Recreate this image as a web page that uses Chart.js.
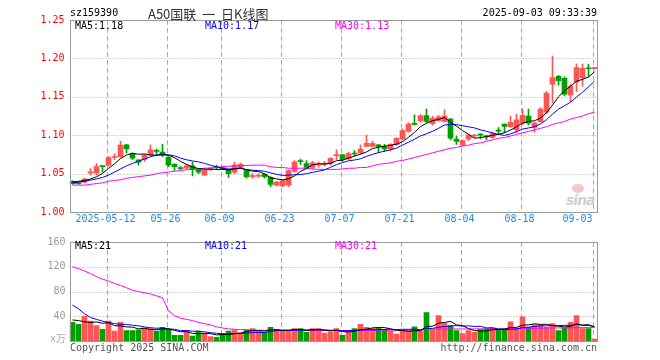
<!DOCTYPE html>
<html lang="zh-CN">
<head>
<meta charset="UTF-8">
<title>A50国联 日K线图</title>
<style>
    body { margin: 0; background: #fff; }
    #wrap { position: relative; width: 660px; height: 360px; font-family: "DejaVu Sans Mono", monospace; font-size: 10px; }
    #wrap canvas { position: absolute; left: 0; }
    #kChart { top: 0; }
    #volChart { top: 232px; }
    .t { position: absolute; white-space: nowrap; line-height: 12px; }
</style>
<script src="https://cdn.jsdelivr.net/npm/chart.js"></script>
</head>
<body>
<div id="wrap">
    <canvas id="kChart" width="660" height="232"></canvas>
    <canvas id="volChart" width="660" height="128"></canvas>

    <div class="t" style="left:70px;top:7px;">sz159390</div>
    <div class="t" style="left:148px;top:4px;line-height:16px;font:13px 'Noto Sans CJK SC';color:#333;">A50国联&nbsp;&nbsp;一&nbsp;&nbsp;日K线图</div>
    <div class="t" style="right:63px;top:7px;">2025-09-03 09:33:39</div>

    <div class="t" style="left:75px;top:20px;color:#000;">MA5:1.18</div>
    <div class="t" style="left:205px;top:20px;color:#0000ff;">MA10:1.17</div>
    <div class="t" style="left:335px;top:20px;color:#ff00ff;">MA30:1.13</div>

    <div class="t" style="left:75px;top:240px;color:#000;">MA5:21</div>
    <div class="t" style="left:205px;top:240px;color:#0000ff;">MA10:21</div>
    <div class="t" style="left:335px;top:240px;color:#ff00ff;">MA30:21</div>

    <div class="t" style="right:594px;top:333px;color:#aaa;">x万</div>
    <div class="t" style="left:70px;top:342px;color:#555;">Copyright 2025 SINA.COM</div>
    <div class="t" style="right:63px;top:342px;color:#555;">http://finance.sina.com.cn</div>

    <!-- sina watermark -->
    <div style="position:absolute;left:572px;top:184px;width:12px;height:9px;border-radius:50%;background:#f4c8c8;"></div>
    <div class="t" style="left:566px;top:192px;font:italic bold 14px 'DejaVu Sans';color:#cfcfcf;letter-spacing:-1px;">sina</div>
</div>
<script>
// trading days shown (MM-DD, 2025)
const dates = ['04-29','04-30','05-06','05-07','05-08','05-09','05-12','05-13','05-14','05-15','05-16','05-19','05-20','05-21','05-22','05-23',
    '05-26','05-27','05-28','05-29','05-30','06-03','06-04','06-05','06-06','06-09','06-10','06-11','06-12','06-13','06-16','06-17','06-18','06-19','06-20',
    '06-23','06-24','06-25','06-26','06-27','06-30','07-01','07-02','07-03','07-04','07-07','07-08','07-09','07-10','07-11','07-14','07-15','07-16','07-17','07-18',
    '07-21','07-22','07-23','07-24','07-25','07-28','07-29','07-30','07-31','08-01','08-04','08-05','08-06','08-07','08-08','08-11','08-12','08-13','08-14','08-15',
    '08-18','08-19','08-20','08-21','08-22','08-25','08-26','08-27','08-28','08-29','09-01','09-02','09-03'];

// date labels printed under the price panel
const tickLabels = ['2025-05-12','05-26','06-09','06-23','07-07','07-21','08-04','08-18','09-03'];

const opens  = [1.040,1.038,1.039,1.051,1.051,1.060,1.061,1.071,1.072,1.0876,1.076,1.068,1.068,1.074,1.080,1.078,
    1.071,1.062,1.057,1.057,1.060,1.0555,1.048,1.055,1.059,1.058,1.0555,1.052,1.058,1.054,1.046,1.0465,1.049,1.045,1.035,
    1.034,1.035,1.053,1.066,1.063,1.058,1.061,1.062,1.063,1.0735,1.0745,1.069,1.076,1.077,1.0855,1.0855,1.0875,1.0853,1.082,1.088,
    1.095,1.105,1.1145,1.1185,1.1255,1.115,1.119,1.118,1.121,1.095,1.0875,1.095,1.099,1.1005,1.099,1.097,1.1057,1.1144,1.111,1.107,
    1.1157,1.125,1.110,1.1174,1.130,1.1665,1.1765,1.174,1.152,1.169,1.175,1.187,1.187];
const highs  = [1.041,1.039,1.044,1.0566,1.063,1.060,1.072,1.0756,1.092,1.088,1.077,1.068,1.075,1.0876,1.082,1.088,
    1.072,1.063,1.059,1.062,1.065,1.056,1.056,1.058,1.061,1.059,1.056,1.065,1.064,1.055,1.050,1.050,1.050,1.046,1.040,
    1.042,1.055,1.067,1.069,1.067,1.066,1.065,1.066,1.071,1.081,1.075,1.078,1.080,1.0875,1.100,1.092,1.088,1.088,1.089,1.097,
    1.108,1.116,1.1266,1.127,1.134,1.125,1.126,1.133,1.122,1.099,1.094,1.101,1.101,1.102,1.100,1.104,1.110,1.1144,1.125,1.1274,
    1.134,1.134,1.117,1.136,1.157,1.203,1.178,1.176,1.1665,1.193,1.1927,1.1927,1.188];
const lows   = [1.036,1.036,1.038,1.048,1.048,1.052,1.060,1.068,1.071,1.077,1.068,1.061,1.066,1.073,1.075,1.072,
    1.059,1.054,1.055,1.056,1.047,1.050,1.048,1.054,1.055,1.055,1.045,1.050,1.057,1.044,1.044,1.045,1.044,1.033,1.034,
    1.033,1.033,1.052,1.062,1.056,1.056,1.058,1.060,1.061,1.068,1.066,1.068,1.073,1.076,1.085,1.085,1.0774,1.079,1.080,1.087,
    1.094,1.104,1.113,1.117,1.1165,1.113,1.118,1.117,1.094,1.088,1.086,1.093,1.097,1.095,1.094,1.096,1.101,1.103,1.110,1.1035,
    1.114,1.113,1.104,1.117,1.128,1.142,1.165,1.151,1.1435,1.1566,1.164,1.1766,1.186];
const closes = [1.037,1.037,1.043,1.052,1.059,1.059,1.071,1.072,1.087,1.082,1.070,1.065,1.074,1.081,1.079,1.074,
    1.061,1.059,1.0565,1.060,1.0555,1.052,1.055,1.0565,1.058,1.056,1.050,1.061,1.062,1.046,1.047,1.0475,1.046,1.036,1.039,
    1.041,1.054,1.065,1.0655,1.058,1.064,1.062,1.063,1.070,1.0745,1.068,1.076,1.0755,1.082,1.0895,1.0895,1.0853,1.082,1.088,1.096,
    1.106,1.1145,1.114,1.1253,1.118,1.122,1.124,1.125,1.096,1.092,1.093,1.100,1.0995,1.100,1.098,1.102,1.1053,1.1113,1.1166,1.120,
    1.126,1.1157,1.1157,1.134,1.155,1.175,1.171,1.1535,1.164,1.188,1.187,1.1865,1.1875];

const ma5  = [1.039,1.040,1.041,1.043,1.0458,1.0502,1.0568,1.0626,1.0696,1.0742,1.0764,1.0752,1.0756,1.0744,1.0738,1.0746,
    1.0738,1.0708,1.0659,1.0621,1.0584,1.0566,1.0558,1.0558,1.0554,1.0555,1.0551,1.0563,1.0574,1.0550,1.0532,1.0527,1.0497,1.0445,1.0431,
    1.0419,1.0432,1.0470,1.0529,1.0567,1.0613,1.0629,1.0625,1.0634,1.0667,1.0675,1.0703,1.0728,1.0752,1.0782,1.0825,1.0844,1.0857,1.0869,1.0882,
    1.0915,1.0973,1.1037,1.1112,1.1156,1.1188,1.1207,1.1229,1.1170,1.1118,1.1060,1.1012,1.0961,1.0969,1.0981,1.0999,1.1010,1.1033,1.1066,1.1110,
    1.1158,1.1179,1.1188,1.1223,1.1293,1.1391,1.1501,1.1577,1.1637,1.1703,1.1727,1.1758,1.1826];
const ma10 = [1.038,1.039,1.040,1.0415,1.043,1.045,1.048,1.052,1.056,1.0600,1.0633,1.0660,1.0691,1.0720,1.0740,1.0755,
    1.0745,1.0732,1.0702,1.0680,1.0665,1.0652,1.0633,1.0609,1.0588,1.0570,1.0559,1.0561,1.0566,1.0552,1.0544,1.0539,1.0530,1.0510,1.0491,
    1.0476,1.0480,1.0484,1.0487,1.0499,1.0516,1.0531,1.0548,1.0582,1.0617,1.0644,1.0666,1.0677,1.0693,1.0725,1.0750,1.0773,1.0792,1.0810,1.0832,
    1.0870,1.0908,1.0947,1.0990,1.1019,1.1051,1.1090,1.1133,1.1141,1.1137,1.1124,1.1109,1.1095,1.1070,1.1050,1.1030,1.1011,1.0997,1.1018,1.1046,
    1.1079,1.1094,1.1111,1.1145,1.1202,1.1275,1.1340,1.1383,1.1430,1.1498,1.1559,1.1630,1.1702];
const ma30 = [1.035,1.035,1.035,1.036,1.037,1.038,1.040,1.041,1.042,1.044,1.045,1.046,1.047,1.048,1.050,1.051,
    1.052,1.053,1.054,1.055,1.0555,1.056,1.057,1.0575,1.058,1.059,1.0595,1.060,1.060,1.0605,1.061,1.061,1.061,1.059,1.058,
    1.058,1.057,1.057,1.057,1.057,1.056,1.0555,1.0555,1.0555,1.0555,1.056,1.057,1.057,1.058,1.058,1.060,1.062,1.063,1.064,1.066,
    1.067,1.069,1.071,1.073,1.075,1.077,1.079,1.081,1.083,1.084,1.086,1.087,1.089,1.090,1.092,1.094,1.096,1.097,1.099,1.101,
    1.103,1.105,1.107,1.109,1.111,1.114,1.116,1.118,1.121,1.123,1.125,1.128,1.130];

// volume, 万手
const volumes = [30,27,40,32,25,19,32,16,30,17,17,18,21,20,16,22,
    19,9,9,17,8,16,12,7,6,12,16,18,12,18,20,16,14,22,19,
    16,16,20,20,14,20,20,13,14,20,9,17,20,27,22,20,21,19,16,11,
    17,16,23,16,46,18,41,29,25,17,12,17,14,19,20,21,19,18,31,21,
    39,22,26,26,22,28,17,21,30,41,20,20,3];
const volMa5  = [34,33,31,30,30.8,28.6,29.6,24.8,24.4,22.8,22.4,19.6,20.6,18.6,18.4,19.4,
    19.6,17.2,15.0,15.2,12.4,11.8,12.4,12.0,9.8,10.6,10.6,11.8,12.8,15.2,16.8,16.8,16.0,18.0,18.2,
    17.4,17.4,18.6,18.2,17.2,18.0,18.8,17.4,16.2,17.4,15.2,14.6,16.0,18.6,19.0,21.2,22.0,21.8,19.6,17.4,
    16.8,15.8,16.6,16.6,23.6,23.8,28.8,30.0,31.8,26.0,24.8,20.0,17.0,15.8,16.4,18.2,18.6,19.4,21.8,22.0,
    25.6,26.2,27.8,26.8,27.0,24.8,23.8,22.8,23.6,27.4,25.8,26.4,22.8];
const volMa10 = [58,52,44,38,35,32,30,28,27,26.8,25.5,24.6,22.7,21.5,20.6,20.9,
    19.6,18.9,16.8,16.8,15.9,15.7,14.8,13.5,12.5,11.5,11.2,12.1,12.4,12.5,13.7,13.7,13.9,15.4,16.7,
    17.1,17.1,17.3,18.1,17.7,17.7,18.1,18.0,17.2,17.3,16.6,16.7,16.7,17.4,18.2,18.2,18.3,18.9,19.1,18.2,
    19.0,18.9,19.2,18.1,20.5,20.3,22.3,23.3,24.2,24.8,24.3,24.4,23.5,23.8,21.2,21.5,19.3,18.2,18.8,19.2,
    21.9,22.4,23.6,24.3,24.5,25.2,25.0,25.3,25.2,27.2,25.3,25.1,23.2];
const volMa30 = [120,117,113,109,104,100,97,93,90,86,82,80,78,76,73,70,
    49,41,37,35,33,30,28,26,23,21,19.5,19,18.5,18,17.5,17.5,17.4,17.4,17.3,
    17.3,17.2,17.2,17.2,17.2,17.2,17.2,17.1,17.1,17.1,17.0,17.0,17.1,17.1,17.2,17.3,17.3,17.4,17.4,17.4,
    17.5,17.5,17.6,17.6,19.0,19.0,19.2,19.3,19.4,19.4,19.4,19.5,19.5,19.6,19.6,19.7,19.7,19.8,19.9,20.0,
    20.2,20.3,20.5,20.6,20.8,21.0,21.1,21.2,21.3,21.5,21.6,21.6,21.6];

const RED = '#ff5555', GREEN = '#00a000';
const barColors = closes.map((c, i) => c >= opens[i] ? RED : GREEN);
const tickIdx = tickLabels.map(t => dates.indexOf(t.slice(-5)));
const MONO = 'DejaVu Sans Mono';

// dotted horizontal lines, dashed vertical date lines and the panel frame
const panelGrid = {
    id: 'panelGrid',
    beforeDatasetsDraw(chart, args, opts) {
        const { ctx, chartArea: a, scales: { x, y } } = chart;
        ctx.save();
        ctx.lineWidth = 1;
        ctx.strokeStyle = '#aaa';
        ctx.setLineDash([1, 2]);
        opts.hLines.forEach(v => {
            const py = Math.round(y.getPixelForValue(v)) + 0.5;
            ctx.beginPath(); ctx.moveTo(a.left, py); ctx.lineTo(a.right, py); ctx.stroke();
        });
        ctx.setLineDash([5, 3]);
        tickIdx.forEach(i => {
            const px = Math.round(x.getPixelForValue(i) - 1.5) + 0.5;
            ctx.beginPath(); ctx.moveTo(px, a.top); ctx.lineTo(px, a.bottom); ctx.stroke();
        });
        ctx.restore();
    },
    afterDatasetsDraw(chart) {
        const { ctx, chartArea: a } = chart;
        ctx.save();
        ctx.strokeStyle = '#999';
        ctx.lineWidth = 1;
        ctx.strokeRect(Math.round(a.left) + 0.5, Math.round(a.top) + 0.5, Math.round(a.width) - 1, Math.round(a.height));
        ctx.restore();
    }
};

// date labels under the price panel, the last one ends at its line
const dateLabels = {
    id: 'dateLabels',
    afterDraw(chart) {
        const { ctx, chartArea: a, scales: { x } } = chart;
        ctx.save();
        ctx.font = '10px "' + MONO + '"';
        ctx.fillStyle = '#1a8ce0';
        ctx.textBaseline = 'middle';
        tickIdx.forEach((i, k) => {
            const px = x.getPixelForValue(i);
            const last = k === tickIdx.length - 1;
            ctx.textAlign = last ? 'right' : 'center';
            ctx.fillText(tickLabels[k], last ? px - 2 : px - 3, a.bottom + 7);
        });
        ctx.restore();
    }
};

function maLine(data, color) {
    return { type: 'line', data: data, borderColor: color, borderWidth: 1, pointRadius: 0, tension: 0, order: 0 };
}

const commonOptions = {
    responsive: false,
    animation: false,
    events: [],
    plugins: { legend: { display: false }, tooltip: { enabled: false } }
};

new Chart(document.getElementById('kChart'), {
    type: 'bar',
    data: {
        labels: dates,
        datasets: [
            maLine(ma5, '#000000'),
            maLine(ma10, '#0000ff'),
            maLine(ma30, '#ff00ff'),
            {
                data: opens.map((o, i) => [o, closes[i]]),
                backgroundColor: barColors,
                barThickness: 5,
                minBarLength: 1,
                grouped: false,
                order: 2
            },
            {
                data: lows.map((l, i) => [l, highs[i]]),
                backgroundColor: barColors,
                barThickness: 1,
                grouped: false,
                order: 3
            }
        ]
    },
    options: Object.assign({}, commonOptions, {
        layout: { padding: { top: 20, right: 62.5, bottom: 20, left: 0 } },
        scales: {
            x: { display: false, offset: true },
            y: {
                min: 1.0, max: 1.25,
                ticks: { stepSize: 0.05, color: '#ff0000', padding: 5, font: { family: MONO, size: 10 },
                    callback: v => v.toFixed(2) },
                grid: { display: false, drawTicks: false },
                border: { display: false },
                afterFit: s => { s.width = 69.5; }
            }
        },
        plugins: Object.assign({}, commonOptions.plugins, { panelGrid: { hLines: [1.05, 1.10, 1.15, 1.20] } })
    }),
    plugins: [panelGrid, dateLabels]
});

new Chart(document.getElementById('volChart'), {
    type: 'bar',
    data: {
        labels: dates,
        datasets: [
            maLine(volMa5, '#000000'),
            maLine(volMa10, '#0000ff'),
            maLine(volMa30, '#ff00ff'),
            {
                data: volumes,
                backgroundColor: barColors,
                barThickness: 5,
                minBarLength: 1,
                order: 2
            }
        ]
    },
    options: Object.assign({}, commonOptions, {
        layout: { padding: { top: 9, right: 62.5, bottom: 19, left: 0 } },
        scales: {
            x: { display: false, offset: true },
            y: {
                min: 0, max: 160,
                ticks: { stepSize: 40, color: '#999', padding: 4, font: { family: MONO, size: 10 },
                    callback: v => v === 0 ? '' : v },
                grid: { display: false, drawTicks: false },
                border: { display: false },
                afterFit: s => { s.width = 69.5; }
            }
        },
        plugins: Object.assign({}, commonOptions.plugins, { panelGrid: { hLines: [40, 80, 120] } })
    }),
    plugins: [panelGrid]
});
</script>
</body>
</html>
